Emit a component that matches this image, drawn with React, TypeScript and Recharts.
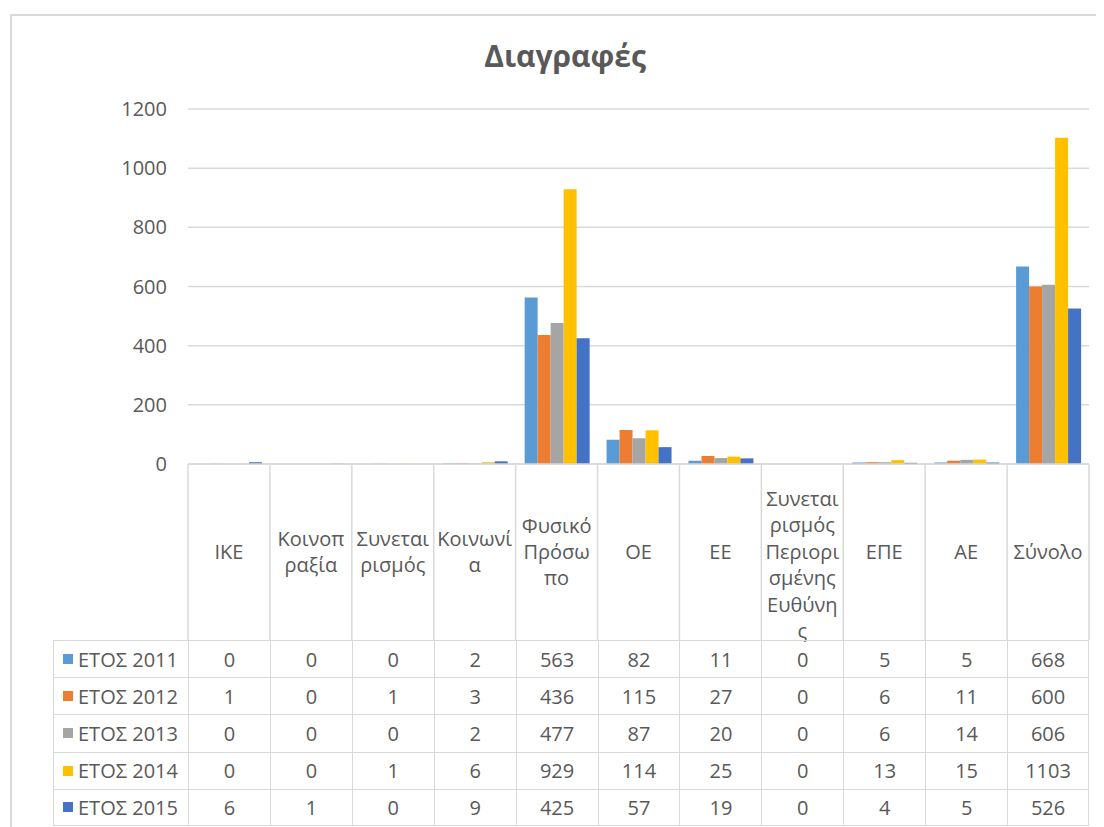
import { BarChart, Bar, XAxis, YAxis, CartesianGrid } from 'recharts';

const categories = [
  'ΙΚΕ',
  'Κοινοπραξία',
  'Συνεταιρισμός',
  'Κοινωνία',
  'Φυσικό Πρόσωπο',
  'ΟΕ',
  'ΕΕ',
  'Συνεταιρισμός Περιορισμένης Ευθύνης',
  'ΕΠΕ',
  'ΑΕ',
  'Σύνολο',
];

// how Excel wrapped the category names in the data table header
const headerLines = [
  ['ΙΚΕ'],
  ['Κοινοπ', 'ραξία'],
  ['Συνεται', 'ρισμός'],
  ['Κοινωνί', 'α'],
  ['Φυσικό', 'Πρόσω', 'πο'],
  ['ΟΕ'],
  ['ΕΕ'],
  ['Συνεται', 'ρισμός', 'Περιορι', 'σμένης', 'Ευθύνη', 'ς'],
  ['ΕΠΕ'],
  ['ΑΕ'],
  ['Σύνολο'],
];

const y2011 = [0, 0, 0, 2, 563, 82, 11, 0, 5, 5, 668];
const y2012 = [1, 0, 1, 3, 436, 115, 27, 0, 6, 11, 600];
const y2013 = [0, 0, 0, 2, 477, 87, 20, 0, 6, 14, 606];
const y2014 = [0, 0, 1, 6, 929, 114, 25, 0, 13, 15, 1103];
const y2015 = [6, 1, 0, 9, 425, 57, 19, 0, 4, 5, 526];

const yTicks = [0, 200, 400, 600, 800, 1000, 1200];

const series = [
  { key: 'y2011', name: 'ΕΤΟΣ 2011', values: y2011, color: '#5B9BD5' },
  { key: 'y2012', name: 'ΕΤΟΣ 2012', values: y2012, color: '#ED7D31' },
  { key: 'y2013', name: 'ΕΤΟΣ 2013', values: y2013, color: '#A5A5A5' },
  { key: 'y2014', name: 'ΕΤΟΣ 2014', values: y2014, color: '#FFC000' },
  { key: 'y2015', name: 'ΕΤΟΣ 2015', values: y2015, color: '#4472C4' },
];

const data = categories.map((name, i) => {
  const row: Record<string, string | number> = { name };
  series.forEach((s) => (row[s.key] = s.values[i]));
  return row;
});

const FONT = '"Open Sans", "Noto Sans", sans-serif';
const TEXT = '#595959';
const LINE = '#D9D9D9';
const FS = 20;

const W = 1096;
const H = 819;
const PLOT_LEFT = 180;
const PLOT_RIGHT = 1081;
const PLOT_TOP = 101;
const PLOT_BOTTOM = 456;
const HEADER_H = 176;
const ROW_H = 37.2;
const LEGEND_LEFT = 45;
const COL_W = (PLOT_RIGHT - PLOT_LEFT) / categories.length;
const LINE_H = 26.4;

function HeaderTick(props: any) {
  const { x, payload, index } = props;
  const lines = headerLines[index] || [payload.value];
  const top = PLOT_BOTTOM;
  const center = top + HEADER_H / 2;
  const first = Math.max(center - ((lines.length - 1) / 2) * LINE_H, top + 35);
  const left = x - COL_W / 2;
  return (
    <g>
      <line x1={left} y1={top} x2={left} y2={top + HEADER_H} stroke={LINE} strokeWidth={1.5} />
      {index === categories.length - 1 && (
        <line x1={left + COL_W} y1={top} x2={left + COL_W} y2={top + HEADER_H} stroke={LINE} strokeWidth={1.5} />
      )}
      <text x={x} textAnchor="middle" fill={TEXT} fontSize={FS} fontFamily={FONT}>
        {lines.map((l: string, i: number) => (
          <tspan key={i} x={x} y={first + i * LINE_H} dy="0.35em">
            {l}
          </tspan>
        ))}
      </text>
    </g>
  );
}

function DataTable() {
  return (
    <div
      style={{
        position: 'absolute',
        left: LEGEND_LEFT,
        top: PLOT_BOTTOM + HEADER_H,
        width: PLOT_RIGHT - LEGEND_LEFT,
        fontFamily: FONT,
        fontSize: FS,
        color: TEXT,
      }}
    >
      {series.map((s, r) => (
        <div
          key={s.key}
          style={{
            position: 'relative',
            height: ROW_H,
            borderTop: `1.5px solid ${LINE}`,
            borderBottom: r === series.length - 1 ? `1.5px solid ${LINE}` : undefined,
            boxSizing: 'border-box',
          }}
        >
          <div
            style={{
              position: 'absolute',
              left: 0,
              top: 0,
              width: PLOT_LEFT - LEGEND_LEFT,
              height: '100%',
              borderLeft: `1.5px solid ${LINE}`,
              display: 'flex',
              alignItems: 'center',
              boxSizing: 'border-box',
            }}
          >
            <span style={{ width: 10, height: 10, background: s.color, margin: '0 5px 0 9px', display: 'inline-block' }} />
            <span style={{ whiteSpace: 'nowrap' }}>{s.name}</span>
          </div>
          {s.values.map((v, c) => (
            <div
              key={c}
              style={{
                position: 'absolute',
                left: PLOT_LEFT - LEGEND_LEFT + c * COL_W,
                top: 0,
                width: COL_W,
                height: '100%',
                borderLeft: `1.5px solid ${LINE}`,
                borderRight: c === s.values.length - 1 ? `1.5px solid ${LINE}` : undefined,
                display: 'flex',
                alignItems: 'center',
                justifyContent: 'center',
                boxSizing: 'border-box',
              }}
            >
              {v}
            </div>
          ))}
        </div>
      ))}
    </div>
  );
}

export default function App() {
  return (
    <div style={{ position: 'relative', width: W, height: H, background: '#fff' }}>
      <div
        style={{
          position: 'absolute',
          left: 2,
          top: 6,
          width: 1094,
          height: 813,
          borderTop: `2px solid ${LINE}`,
          borderLeft: `2px solid ${LINE}`,
          boxSizing: 'border-box',
        }}
      />
      <div
        style={{
          position: 'absolute',
          left: 557 - 300,
          top: 29,
          width: 600,
          textAlign: 'center',
          fontFamily: FONT,
          fontWeight: 700,
          fontSize: 30,
          color: TEXT,
          lineHeight: '38px',
        }}
      >
        Διαγραφές
      </div>
      <BarChart
        width={W}
        height={H}
        data={data}
        margin={{ top: PLOT_TOP, right: W - PLOT_RIGHT, bottom: H - PLOT_BOTTOM - HEADER_H, left: PLOT_LEFT - 60 }}
        barCategoryGap="11%"
        barGap={0}
        style={{ position: 'absolute', left: 0, top: 0 }}
      >
        <CartesianGrid vertical={false} stroke={LINE} strokeWidth={1.5} />
        <YAxis
          width={60}
          domain={[0, 1200]}
          ticks={yTicks}
          axisLine={false}
          tickLine={false}
          tickSize={0}
          tickMargin={21}
          tick={{ fill: TEXT, fontSize: FS, fontFamily: FONT }}
        />
        <XAxis
          dataKey="name"
          height={HEADER_H}
          axisLine={{ stroke: LINE, strokeWidth: 1.5 }}
          tickLine={false}
          interval={0}
          tick={<HeaderTick />}
        />
        {series.map((s) => (
          <Bar key={s.key} dataKey={s.key} name={s.name} fill={s.color} isAnimationActive={false} />
        ))}
      </BarChart>
      <DataTable />
    </div>
  );
}
